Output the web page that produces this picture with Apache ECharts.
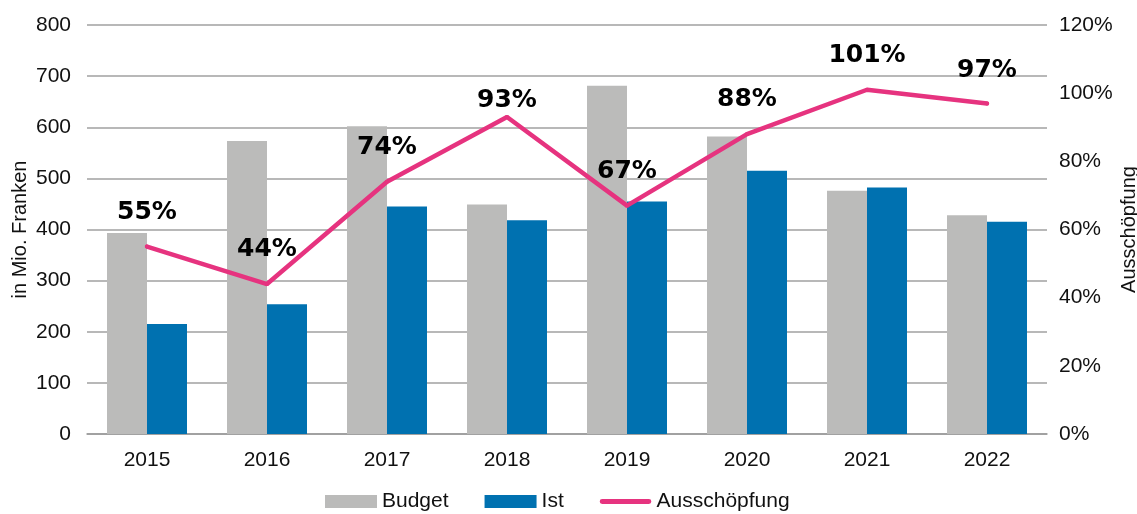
<!DOCTYPE html>
<html>
<head>
<meta charset="utf-8">
<script src="https://cdn.jsdelivr.net/npm/echarts@6/dist/echarts.min.js"></script>
<style>
  html, body { margin: 0; padding: 0; background: #fff; }
  #chart { width: 1137px; height: 514px; }
</style>
</head>
<body>
<div id="chart"></div>
<script>
  // Werte
  var years = ['2015', '2016', '2017', '2018', '2019', '2020', '2021', '2022'];
  var budget = [393, 573, 602, 449, 681, 582, 476, 428];
  var ist = [215, 254, 445, 418, 455, 515, 482, 415];
  var ausschoepfung = [55, 44, 74, 93, 67, 88, 101, 97];
  // Abstand der Prozent-Beschriftung über dem Punkt
  var labelDistance = [20, 20, 20, 2, 20, 20, 20, 18];

  var font = 'Liberation Sans, Arial, Helvetica, sans-serif';
  var chart = echarts.init(document.getElementById('chart'));

  var lineData = ausschoepfung.map(function (v, i) {
    return { value: v, label: { distance: labelDistance[i] } };
  });

  // dicker Strich als Legendensymbol (kleine Punkte halten die Höhe)
  var lineIcon = 'path://M0,0h0.1v0.1h-0.1z M0,13h0.1v0.1h-0.1z M2.5,4H49.5A2.5,2.5 0 0 1 49.5,9H2.5A2.5,2.5 0 0 1 2.5,4Z';

  chart.setOption({
    animation: false,
    textStyle: { fontFamily: font },
    grid: { left: 87, right: 90, top: 25, bottom: 80, outerBoundsMode: 'none', containLabel: false },
    legend: {
      bottom: -3,
      left: 320,
      itemWidth: 52,
      itemHeight: 13,
      itemGap: 36,
      textStyle: { fontSize: 21, color: '#111', fontFamily: font },
      data: [
        { name: 'Budget', icon: 'rect' },
        { name: 'Ist', icon: 'rect' },
        { name: 'Ausschöpfung', icon: lineIcon }
      ]
    },
    xAxis: {
      type: 'category',
      data: years,
      axisTick: { show: false },
      axisLine: { lineStyle: { color: '#999', width: 1.5 } },
      axisLabel: { fontSize: 21, color: '#111', margin: 16 }
    },
    yAxis: [{
      type: 'value',
      min: 0, max: 800, interval: 100,
      name: 'in Mio. Franken',
      nameLocation: 'middle',
      nameGap: 57,
      nameRotate: 90,
      nameMoveOverlap: false,
      nameTextStyle: { fontSize: 20, color: '#111' },
      axisLabel: { fontSize: 21, color: '#111', margin: 16 },
      axisLine: { show: false },
      axisTick: { show: false },
      splitLine: { lineStyle: { color: '#a0a0a0', width: 1.5 } }
    }, {
      type: 'value',
      min: 0, max: 120, interval: 20,
      name: 'Ausschöpfung',
      nameLocation: 'middle',
      nameGap: 72,
      nameRotate: 90,
      nameMoveOverlap: false,
      nameTextStyle: { fontSize: 20, color: '#111' },
      axisLabel: { fontSize: 21, color: '#111', margin: 12, formatter: '{value}%' },
      axisLine: { show: false },
      axisTick: { show: false },
      splitLine: { show: false }
    }],
    series: [{
      name: 'Budget',
      type: 'bar',
      data: budget,
      barWidth: 40,
      barGap: '0%',
      itemStyle: { color: '#bbbbba' }
    }, {
      name: 'Ist',
      type: 'bar',
      data: ist,
      barWidth: 40,
      itemStyle: { color: '#0071b0' }
    }, {
      name: 'Ausschöpfung',
      type: 'line',
      yAxisIndex: 1,
      data: lineData,
      symbol: 'circle',
      symbolSize: 4,
      itemStyle: { color: '#e6337f' },
      lineStyle: { color: '#e6337f', width: 4.5, cap: 'round' },
      label: {
        show: true,
        position: 'top',
        formatter: '{c}%',
        fontFamily: 'DejaVu Sans, sans-serif',
        fontWeight: 'bold',
        fontSize: 25,
        color: '#000'
      }
    }]
  });
</script>
</body>
</html>
